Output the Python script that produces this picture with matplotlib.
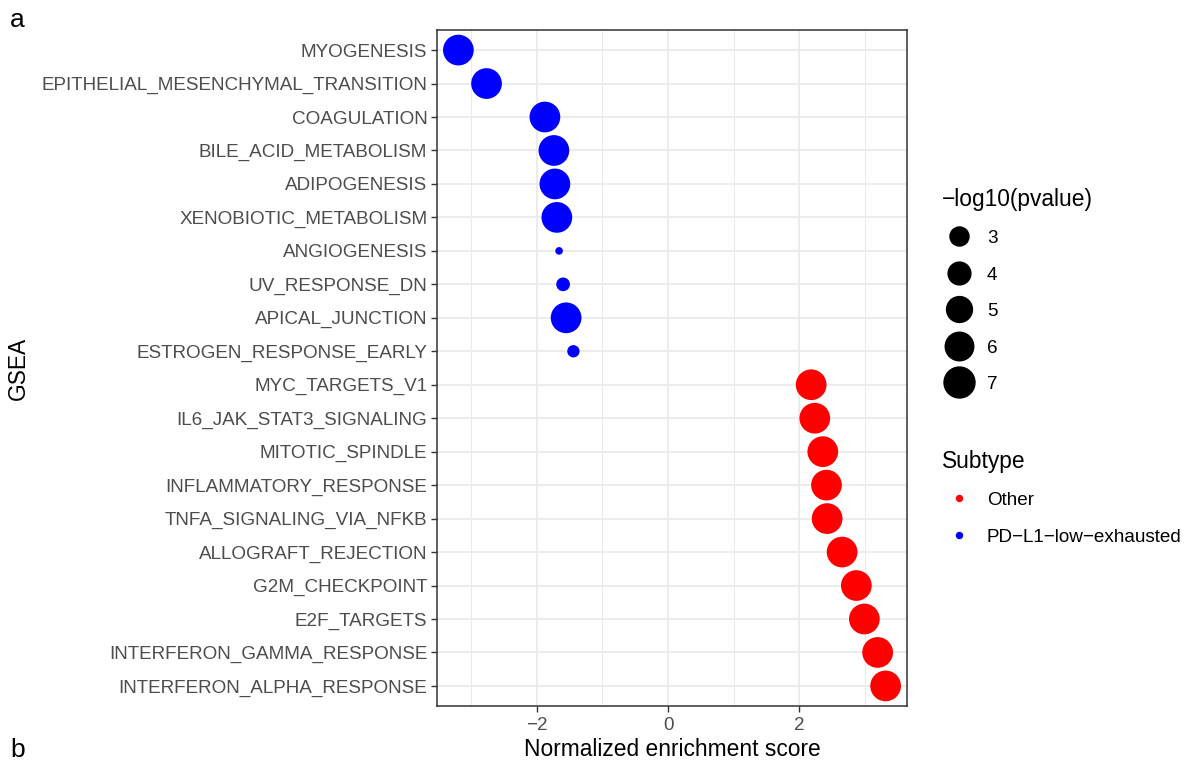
import numpy as np
import matplotlib.pyplot as plt
from matplotlib.lines import Line2D

plt.rcParams['font.family'] = ['Liberation Sans', 'DejaVu Sans']

pathways = ['MYOGENESIS', 'EPITHELIAL_MESENCHYMAL_TRANSITION', 'COAGULATION',
            'BILE_ACID_METABOLISM', 'ADIPOGENESIS', 'XENOBIOTIC_METABOLISM',
            'ANGIOGENESIS', 'UV_RESPONSE_DN', 'APICAL_JUNCTION',
            'ESTROGEN_RESPONSE_EARLY', 'MYC_TARGETS_V1', 'IL6_JAK_STAT3_SIGNALING',
            'MITOTIC_SPINDLE', 'INFLAMMATORY_RESPONSE', 'TNFA_SIGNALING_VIA_NFKB',
            'ALLOGRAFT_REJECTION', 'G2M_CHECKPOINT', 'E2F_TARGETS',
            'INTERFERON_GAMMA_RESPONSE', 'INTERFERON_ALPHA_RESPONSE']
nes = [-3.195, -2.766, -1.877, -1.740, -1.725, -1.695, -1.661, -1.600, -1.554,
       -1.443, 2.178, 2.233, 2.355, 2.411, 2.421, 2.649, 2.866, 2.988, 3.190, 3.312]
neglogp = [6.9, 6.9, 6.9, 6.9, 6.9, 6.9, 1.37, 1.97, 6.9, 1.78,
           6.9, 6.9, 6.9, 6.9, 6.9, 6.9, 6.9, 6.9, 6.9, 6.9]
subtype = ['PD\u2212L1\u2212low\u2212exhausted'] * 10 + ['Other'] * 10

colors = {'Other': '#FF0000', 'PD\u2212L1\u2212low\u2212exhausted': '#0000FF'}
size_breaks = [3, 4, 5, 6, 7]


def diam_px(v):
    # marker diameter in pixels for a -log10(pvalue)
    return 4.7 + 11 * np.sqrt(np.maximum(np.asarray(v, dtype=float) - 1.3, 0))


px2pt = 72 / 100

fig = plt.figure(figsize=(11.92, 7.64), dpi=100)
ax = fig.add_axes([437 / 1192, 1 - 706 / 764, 470 / 1192, 676 / 764])

y = np.arange(len(pathways))
cols = [colors[s] for s in subtype]
ax.scatter(nes, y, s=(diam_px(neglogp) * px2pt) ** 2, c=cols, linewidths=0, zorder=3)

ax.set_ylim(len(pathways) - 0.4, -0.6)
ax.set_yticks(y)
ax.set_yticklabels(pathways)
xmin, xmax = min(nes), max(nes)
pad = 0.05 * (xmax - xmin)
ax.set_xlim(xmin - pad, xmax + pad)
ax.set_xticks([-2, 0, 2])
ax.set_xticklabels(['\u22122', '0', '2'])
ax.set_xticks([-3, -1, 1, 3], minor=True)

ax.grid(True, which='major', color='#EBEBEB', linewidth=1.3, zorder=0)
ax.grid(True, which='minor', axis='x', color='#EBEBEB', linewidth=0.7, zorder=0)
ax.set_axisbelow(True)
for sp in ax.spines.values():
    sp.set_color('#333333')
    sp.set_linewidth(1.1)
ax.tick_params(axis='both', which='major', length=4, width=1, color='#333333',
               labelsize=13.6, labelcolor='#4D4D4D', pad=3)
ax.tick_params(axis='x', which='major', pad=4)
ax.tick_params(axis='x', which='minor', length=0)

ax.set_xlabel('Normalized enrichment score', fontsize=16.4, labelpad=3)
ax.set_ylabel('GSEA', fontsize=16.4, labelpad=8)

# size legend
size_handles = [Line2D([], [], marker='o', linestyle='', color='black',
                       markersize=float(diam_px(b)) * px2pt) for b in size_breaks]
leg1 = fig.legend(size_handles, [str(b) for b in size_breaks], title='\u2212log10(pvalue)',
                  loc='upper left', bbox_to_anchor=(934 / 1192, 1 - 180 / 764),
                  frameon=False, fontsize=13.6, title_fontsize=16.4, labelspacing=1.02,
                  handletextpad=0.6, handlelength=1.8, alignment='left', borderaxespad=0)

sub_handles = [Line2D([], [], marker='o', linestyle='', color=colors[k],
                      markersize=6 * px2pt) for k in colors]
leg2 = fig.legend(sub_handles, list(colors), title='Subtype',
                  loc='upper left', bbox_to_anchor=(934 / 1192, 1 - 442 / 764),
                  frameon=False, fontsize=13.6, title_fontsize=16.4, labelspacing=1.02,
                  handletextpad=0.6, handlelength=1.8, alignment='left', borderaxespad=0)

fig.text(10 / 1192, 1 - 20 / 764, 'a', fontsize=19, va='center', ha='left')
fig.text(10 / 1192, 1 - 750 / 764, 'b', fontsize=19, va='center', ha='left')

fig.savefig('out.png', dpi=100)
